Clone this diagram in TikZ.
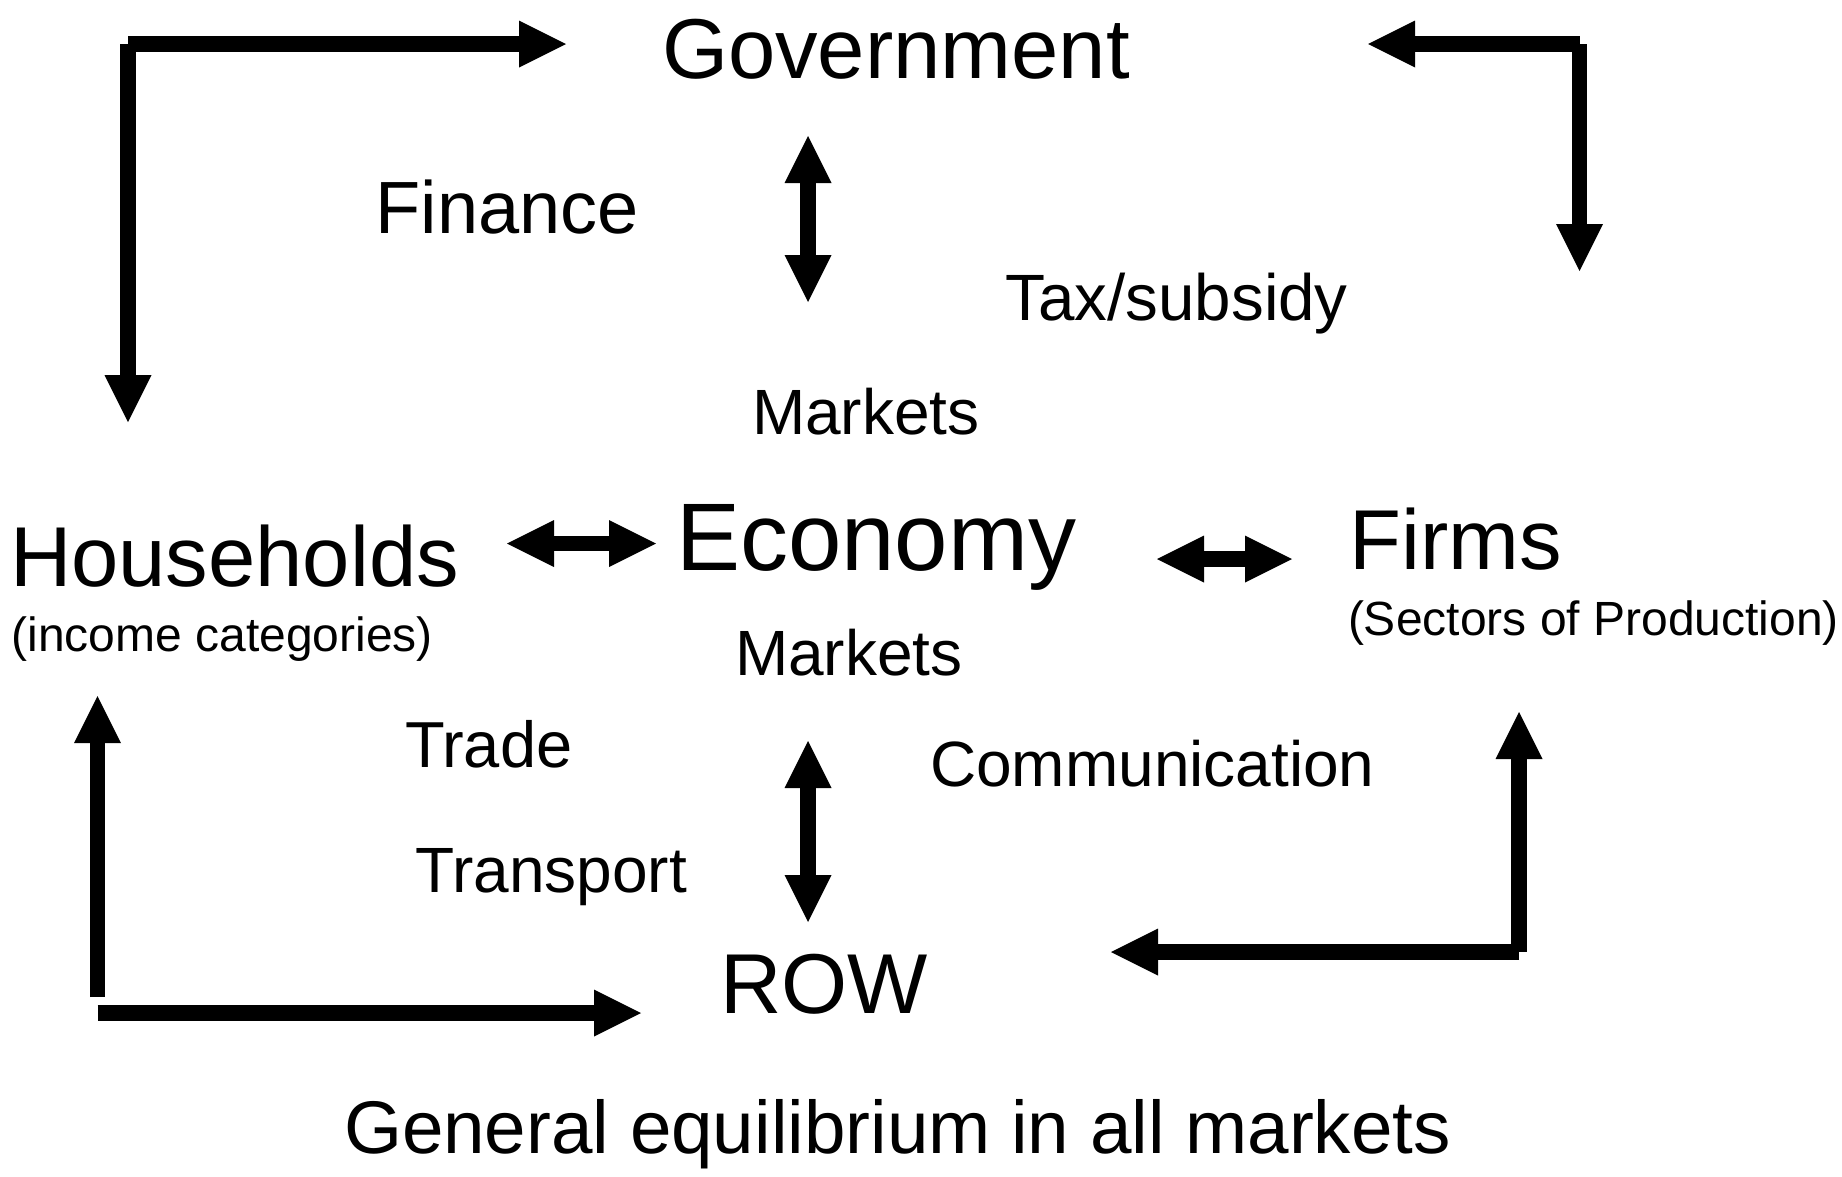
\documentclass[tikz,border=0pt]{standalone}
\usepackage{fontspec}
\setmainfont{Liberation Sans}
\usetikzlibrary{arrows.meta}

\tikzset{
  lbl/.style={anchor=base west, inner sep=0pt, outer sep=0pt, text=black},
  big/.style={lbl, font=\fontsize{85}{100}\selectfont},
  huge/.style={lbl, font=\fontsize{96}{110}\selectfont},
  mid/.style={lbl, font=\fontsize{74}{88}\selectfont},
  small/.style={lbl, font=\fontsize{64}{76}\selectfont},
  tiny/.style={lbl, font=\fontsize{48}{58}\selectfont},
  head/.tip={Triangle[length=47pt, width=47pt, line width=0pt]},
  flow/.style={line width=15.5pt, line cap=butt, -head},
  twoway/.style={line width=15.5pt, line cap=butt, head-head},
}

\begin{document}
\begin{tikzpicture}[x=1pt, y=-1pt]
  \useasboundingbox[fill=white] (0,0) rectangle (1842,1176);

  % actors and labels
  \node[big]   (gov)   at (662,78)     {Government};
  \node[mid]   (fin)   at (375.5,233)  {Finance};
  \node[small, font=\fontsize{65.5}{78}\selectfont] (tax) at (1005.5,320) {Tax/subsidy};
  \node[small] (mkt1)  at (752,434)    {Markets};
  \node[big]   (hh)    at (10,586)     {Households};
  \node[tiny]  (hhsub) at (11.5,651)   {(income categories)};
  \node[huge]  (eco)   at (676,570)    {Economy};
  \node[big]   (firms) at (1349.5,569) {Firms};
  \node[tiny]  (fsub)  at (1348,635)   {(Sectors of Production)};
  \node[small] (mkt2)  at (735,675)    {Markets};
  \node[small, font=\fontsize{65}{78}\selectfont] (trade) at (405,767) {Trade};
  \node[small] (trans) at (415.5,892)  {Transport};
  \node[small] (comm)  at (930,786)    {Communication};
  \node[big]   (row)   at (720,1013)   {ROW};
  \node[mid, font=\fontsize{74.6}{90}\selectfont] (ge) at (344,1153) {General equilibrium in all markets};

  % arrow end points
  \coordinate (tl)  at (128,44);
  \coordinate (tlH) at (566,44);
  \coordinate (tlV) at (128,422);
  \coordinate (tr)  at (1579.5,44);
  \coordinate (trH) at (1368,44);
  \coordinate (trV) at (1579.5,271);
  \coordinate (ct1) at (808,136);
  \coordinate (ct2) at (808,302);
  \coordinate (cl1) at (507,543.5);
  \coordinate (cl2) at (656,543.5);
  \coordinate (cr1) at (1157,559);
  \coordinate (cr2) at (1292,559);
  \coordinate (cb1) at (808,741);
  \coordinate (cb2) at (808,922);
  \coordinate (bl1) at (97.5,997);
  \coordinate (bl2) at (97.5,696);
  \coordinate (bl3) at (97.5,1013);
  \coordinate (bl4) at (641,1013);
  \coordinate (br)  at (1519,952);
  \coordinate (brH) at (1111,952);
  \coordinate (brV) at (1519,712);

  % corner flows
  \draw[flow] (tl) -- (tlH);
  \draw[flow] (tl) -- (tlV);
  \draw[flow] (tr) -- (trH);
  \draw[flow] (tr) -- (trV);
  \draw[flow] (bl1) -- (bl2);
  \draw[flow] (bl3) -- (bl4);
  \draw[flow] (br) -- (brH);
  \draw[flow] (br) -- (brV);

  % two-way links around the economy
  \draw[twoway] (ct1) -- (ct2);
  \draw[twoway] (cl1) -- (cl2);
  \draw[twoway] (cr1) -- (cr2);
  \draw[twoway] (cb1) -- (cb2);
\end{tikzpicture}
\end{document}
